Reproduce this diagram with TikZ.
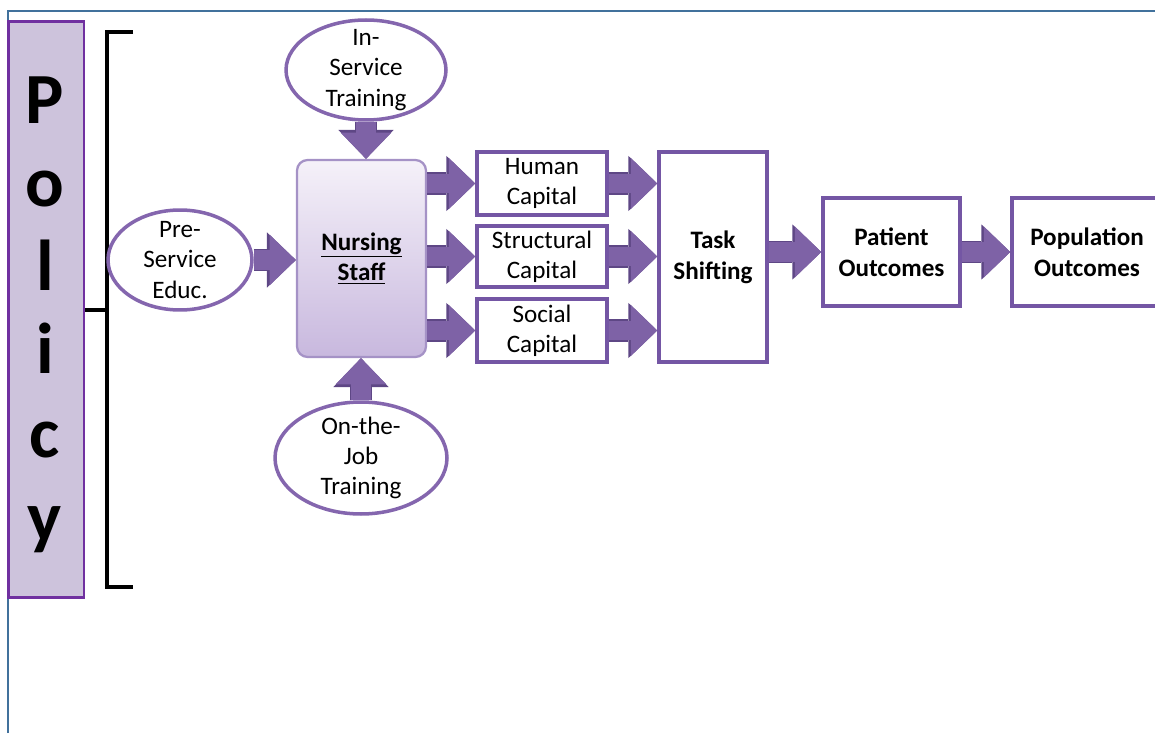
\documentclass[tikz,border=0pt]{standalone}
\usepackage{fontspec}
\setmainfont{Carlito}
\usepackage{xcolor}
\usepackage{tikz}
\usetikzlibrary{shapes.geometric,arrows.meta}

\definecolor{framebl}{HTML}{41719C}
\definecolor{boxpurple}{HTML}{7456A4}
\definecolor{ovalpurple}{HTML}{8466AE}
\definecolor{arrowfill}{HTML}{7E62A6}
\definecolor{arrowdark}{HTML}{5E4785}
\definecolor{policyfill}{HTML}{CDC3DC}
\definecolor{policyline}{HTML}{7030A0}
\definecolor{staffline}{HTML}{A592C6}
\definecolor{stafftop}{HTML}{F5F1F9}
\definecolor{staffbot}{HTML}{C8B8DE}

\tikzset{
  capbox/.style={draw=boxpurple, line width=2pt, fill=white, align=center,
    inner sep=0pt, font=\fontsize{14.3}{17}\selectfont},
  outbox/.style={capbox, font=\fontsize{14.3}{17.5}\selectfont\bfseries},
  oval/.style={ellipse, draw=ovalpurple, line width=2pt, fill=white, inner sep=0pt},
  ovaltext/.style={align=center, inner sep=0pt, font=\fontsize{14.3}{17.3}\selectfont},
  fatarrow/.style={draw=arrowfill, line width=11pt,
    -{Triangle[width=29pt,length=15pt,line width=0pt]},
    preaction={draw=arrowdark, line width=12.6pt,
      -{Triangle[width=31.5pt,length=16.5pt,line width=0pt]}}},
  bracket/.style={draw=black, line width=2pt}
}

\begin{document}
\begin{tikzpicture}[x=0.02cm, y=-0.02cm]
    \useasboundingbox (0,0) rectangle (1155,733);
    \clip (0,0) rectangle (1155,733);

    % Frame
    \draw[framebl, line width=1.3pt] (8,733) -- (8,11) -- (1155,11);

    % Policy bar
    \node[draw=policyline, line width=1.7pt, fill=policyfill,
          minimum width=1.52cm, minimum height=11.54cm] (policy) at (46,309.5) {};
    \node[align=center, inner sep=0pt, anchor=north,
          font=\fontsize{41}{47.6}\selectfont\bfseries] (policytxt) at (45,76)
          {P\\o\\l\\i\\c\\y};

    % Bracket
    \coordinate (brk) at (107,310);
    \draw[bracket] (133,32) -- (107,32) -- (107,587) -- (133,587);
    \draw[bracket] (policy.east |- brk) -- (brk);

    % Training ovals
    \node[oval, minimum width=3.2cm, minimum height=2cm] (inserv) at (366,70) {};
    \node[ovaltext] (inservtxt) at (inserv) {In-\\Service\\Training};
    \node[oval, minimum width=2.88cm, minimum height=2cm] (preserv) at (180,260) {};
    \node[ovaltext] (preservtxt) at (preserv) {Pre-\\Service\\Educ.};
    \node[oval, minimum width=3.44cm, minimum height=2.24cm] (onjob) at (361,458) {};
    \node[ovaltext] (onjobtxt) at (onjob) {On-the-\\Job\\Training};

    % Nursing staff
    \node[draw=staffline, line width=1.3pt, rounded corners=6pt,
          top color=stafftop, bottom color=staffbot,
          minimum width=2.58cm, minimum height=3.94cm, align=center,
          font=\fontsize{14.3}{17.5}\selectfont\bfseries] (nurse) at (361.5,258.5)
          {\underline{Nursing}\\\underline{Staff}};

    % Capitals
    \node[capbox, minimum width=2.6cm, minimum height=1.26cm] (human) at (542,183.5) {Human\\Capital};
    \node[capbox, minimum width=2.6cm, minimum height=1.22cm] (struct) at (542,256.5) {Structural\\Capital};
    \node[capbox, minimum width=2.6cm, minimum height=1.26cm] (social) at (542,330.5) {Social\\Capital};

    % Outcomes
    \node[outbox, minimum width=2.16cm, minimum height=4.2cm] (task) at (713,257) {Task\\Shifting};
    \node[outbox, minimum width=2.74cm, minimum height=2.16cm] (patient) at (891.5,252) {Patient\\Outcomes};
    \node[outbox, minimum width=3.0cm, minimum height=2.16cm] (popul) at (1087,252) {Population\\Outcomes};

    % Arrows into nursing staff
    \draw[fatarrow] (inserv.south) -- (inserv.south |- nurse.north);
    \draw[fatarrow] (preserv.east) -- (preserv.east -| nurse.west);
    \draw[fatarrow] (onjob.north) -- (onjob.north |- nurse.south);

    % Arrows to capitals
    \draw[fatarrow] (nurse.east |- human.west) -- (human.west);
    \draw[fatarrow] (nurse.east |- struct.west) -- (struct.west);
    \draw[fatarrow] (nurse.east |- social.west) -- (social.west);

    % Arrows to task shifting and outcomes
    \draw[fatarrow] (human.east) -- (human.east -| task.west);
    \draw[fatarrow] (struct.east) -- (struct.east -| task.west);
    \draw[fatarrow] (social.east) -- (social.east -| task.west);
    \draw[fatarrow] (task.east |- patient.west) -- (patient.west);
    \draw[fatarrow] (patient.east) -- (popul.west);
\end{tikzpicture}
\end{document}
